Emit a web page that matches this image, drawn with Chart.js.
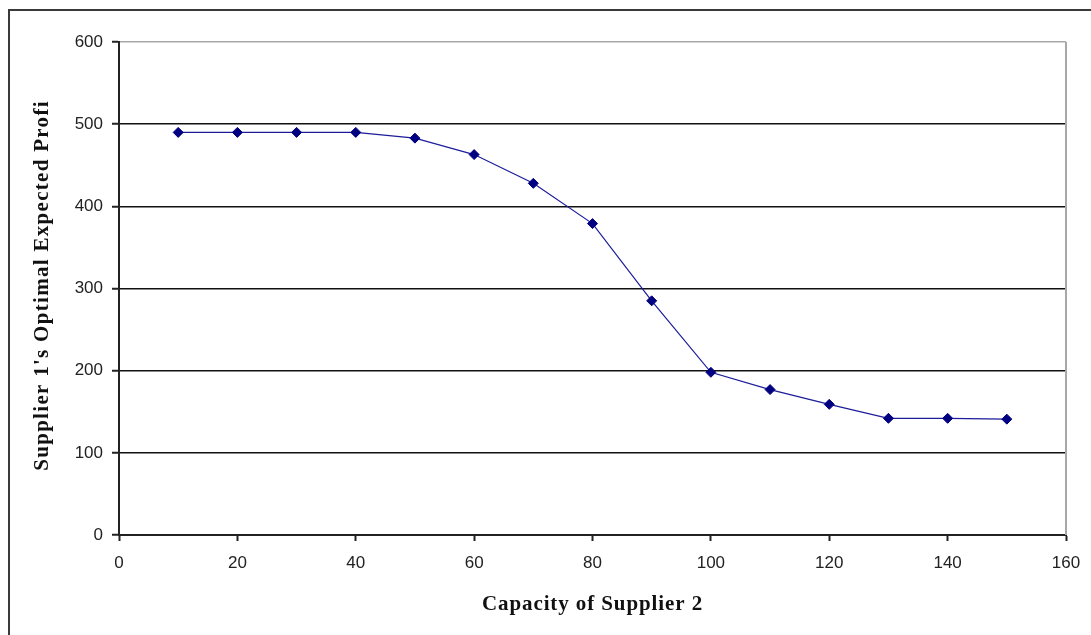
<!DOCTYPE html>
<html>
<head>
<meta charset="utf-8">
<script src="https://cdn.jsdelivr.net/npm/chart.js@4/dist/chart.umd.min.js"></script>
<style>
  html, body { margin: 0; padding: 0; background: #fff; overflow: hidden; }
  #chart { display: block; }
</style>
</head>
<body>
<canvas id="chart" width="1091" height="635"></canvas>
<script>
// capacity of supplier 2 (x) and supplier 1's profit (y)
var capacity = [10, 20, 30, 40, 50, 60, 70, 80, 90, 100, 110, 120, 130, 140, 150];
var profit   = [490, 490, 490, 490, 483, 463, 428, 379, 285, 198, 177, 159, 142, 142, 141];
var xTicks = [0, 20, 40, 60, 80, 100, 120, 140, 160];
var yTicks = [0, 100, 200, 300, 400, 500, 600];
var xTitle = 'Capacity of Supplier 2';
var yTitle = "Supplier 1's Optimal Expected Profi";

var points = [];
for (var i = 0; i < capacity.length; i++) {
    points.push({x: capacity[i], y: profit[i]});
}

// outer frame, right edge of plot and the spaced-out serif axis titles
var framePlugin = {
    id: 'frame',
    beforeDraw: function(chart) {
        var ctx = chart.ctx;
        ctx.save();
        ctx.fillStyle = '#fff';
        ctx.fillRect(0, 0, chart.width, chart.height);
        ctx.strokeStyle = '#3a3a3a';
        ctx.lineWidth = 2;
        ctx.strokeRect(9, 10, 1200, 1000);
        ctx.restore();
    },
    afterDatasetsDraw: function(chart) {
        var a = chart.chartArea;
        var ctx = chart.ctx;
        ctx.save();
        ctx.strokeStyle = '#a8a8a8';
        ctx.lineWidth = 2;
        ctx.beginPath();
        ctx.moveTo(a.right, a.top);
        ctx.lineTo(a.right, a.bottom);
        ctx.stroke();
        ctx.restore();
    },
    afterDraw: function(chart) {
        var a = chart.chartArea;
        var ctx = chart.ctx;
        ctx.save();
        ctx.fillStyle = '#111';
        ctx.font = 'bold 21px "Liberation Serif", "Times New Roman", serif';
        ctx.textAlign = 'center';
        ctx.textBaseline = 'middle';
        ctx.letterSpacing = '0.9px';
        ctx.fillText(xTitle, (a.left + a.right) / 2, 605);
        ctx.translate(43, (a.top + a.bottom) / 2 - 3);
        ctx.rotate(-Math.PI / 2);
        ctx.letterSpacing = '1.3px';
        ctx.fillText(yTitle, 0, 0);
        ctx.restore();
    }
};

new Chart(document.getElementById('chart'), {
    type: 'scatter',
    data: {
        datasets: [{
            data: points,
            showLine: true,
            borderColor: '#1c1c9a',
            borderWidth: 1.2,
            pointStyle: 'rectRot',
            pointRadius: 5,
            pointBackgroundColor: '#000080',
            pointBorderColor: '#000080',
            pointBorderWidth: 1
        }]
    },
    options: {
        responsive: false,
        animation: false,
        events: [],
        layout: { padding: { left: 0, top: 42, right: 25, bottom: 0 } },
        plugins: { legend: { display: false }, tooltip: { enabled: false } },
        scales: {
            x: {
                type: 'linear',
                min: 0,
                max: 160,
                afterFit: function(scale) {
                    scale.height = 100;
                    scale.paddingLeft = 0;
                    scale.paddingRight = 0;
                },
                afterBuildTicks: function(scale) {
                    scale.ticks = xTicks.map(function(v) { return {value: v}; });
                },
                border: { color: '#222', width: 2 },
                grid: {
                    drawOnChartArea: false,
                    tickLength: 6,
                    tickColor: '#222',
                    tickWidth: 2
                },
                ticks: {
                    padding: 12,
                    color: '#222',
                    font: { family: 'Liberation Sans, Arial', size: 17 }
                }
            },
            y: {
                type: 'linear',
                min: 0,
                max: 600,
                afterFit: function(scale) { scale.width = 119; },
                afterBuildTicks: function(scale) {
                    scale.ticks = yTicks.map(function(v) { return {value: v}; });
                },
                border: { color: '#222', width: 2 },
                grid: {
                    color: function(c) {
                        return c.tick && c.tick.value == 600 ? '#a8a8a8' : '#111';
                    },
                    lineWidth: 1.5,
                    tickLength: 7,
                    tickColor: '#222',
                    tickWidth: 2
                },
                ticks: {
                    padding: 9,
                    color: '#222',
                    font: { family: 'Liberation Sans, Arial', size: 17 }
                }
            }
        }
    },
    plugins: [framePlugin]
});
</script>
</body>
</html>
